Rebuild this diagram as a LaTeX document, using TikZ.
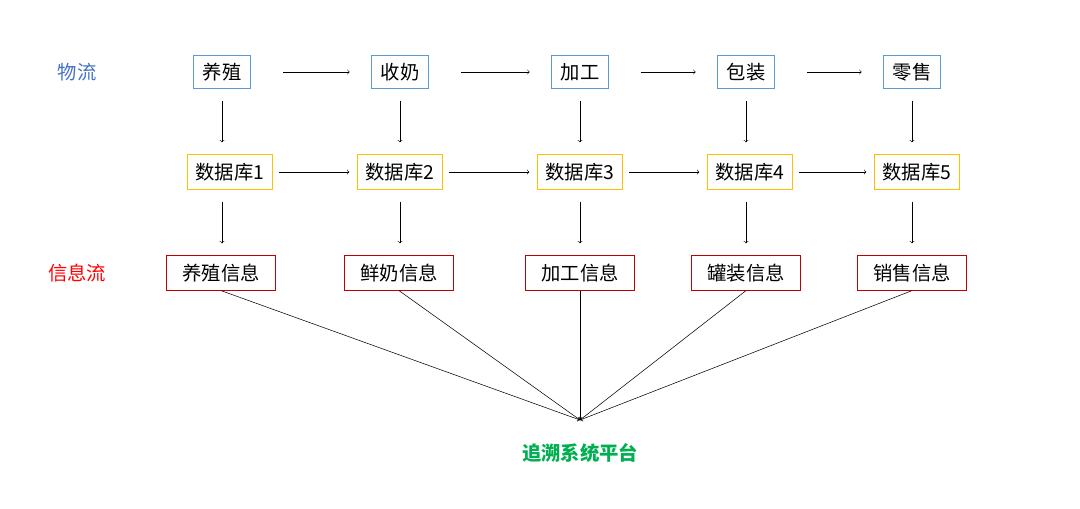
\documentclass[tikz,border=0pt]{standalone}
\usepackage{fontspec}
\setmainfont{Noto Sans CJK SC}
\usetikzlibrary{arrows}
\definecolor{flowblue}{RGB}{68, 114, 196}
\definecolor{boxblue}{RGB}{91, 155, 213}
\definecolor{boxorange}{RGB}{255, 192, 0}
\definecolor{infored}{RGB}{192, 0, 0}
\definecolor{textred}{RGB}{255, 0, 0}
\definecolor{platgreen}{RGB}{0, 176, 80}

\begin{document}
\begin{tikzpicture}[x=0.75pt, y=-0.75pt, font=\fontsize{14.5}{17}\selectfont,
    wu/.style={draw=boxblue, inner xsep=7pt, minimum height=25pt},
    ku/.style={draw=boxorange, inner xsep=6pt, minimum height=26pt},
    xin/.style={draw=infored, inner xsep=12pt, minimum height=26pt},
    jt/.style={->, >=to, thin},
    dn/.style={jt, shorten <=9pt, shorten >=9pt}]
            \useasboundingbox (0, 0) rectangle (1080, 509);
            % row labels
            \node[text=flowblue] (wuliu)  at (77, 72)  {物流};
            \node[text=textred]  (xinxi)  at (77, 273) {信息流};
            % physical flow
            \node[wu] (yz) at (222, 72) {养殖};
            \node[wu] (sn) at (400, 72) {收奶};
            \node[wu] (jg) at (580, 72) {加工};
            \node[wu] (bz) at (746, 72) {包装};
            \node[wu] (ls) at (912, 72) {零售};
            % databases
            \node[ku] (db1) at (230, 172) {数据库1};
            \node[ku] (db2) at (400, 172) {数据库2};
            \node[ku] (db3) at (580, 172) {数据库3};
            \node[ku] (db4) at (750, 172) {数据库4};
            \node[ku] (db5) at (917, 172) {数据库5};
            % information
            \node[xin] (i1) at (221, 273) {养殖信息};
            \node[xin] (i2) at (399, 273) {鲜奶信息};
            \node[xin] (i3) at (580, 273) {加工信息};
            \node[xin] (i4) at (746, 273) {罐装信息};
            \node[xin] (i5) at (912, 273) {销售信息};
            % platform
            \coordinate (hub) at (580, 420);
            \node[text=platgreen, font=\fontsize{14.5}{17}\selectfont\bfseries] (pt) at (580, 453) {追溯系统平台};
            % horizontal arrows
            \foreach \s/\t in {yz/sn, sn/jg, jg/bz, bz/ls}
                \draw[jt] ([xshift=24pt]\s.east) -- ([xshift=-16pt]\t.west);
            \foreach \s/\t in {db1/db2, db2/db3, db3/db4, db4/db5}
                \draw[jt] ([xshift=5pt]\s.east) -- ([xshift=-6pt]\t.west);
            % vertical arrows
            \foreach \s/\m/\t in {yz/db1/i1, sn/db2/i2, jg/db3/i3, bz/db4/i4, ls/db5/i5}{
                \draw[dn] (\s.south) -- (\s.south |- \m.north);
                \draw[dn] (\s.south |- \m.south) -- (\s.south |- \t.north);
            }
            % to the platform
            \foreach \s in {i1, i2, i3, i4, i5}
                \draw[jt] (\s.south) -- (hub);
        \end{tikzpicture}
\end{document}
